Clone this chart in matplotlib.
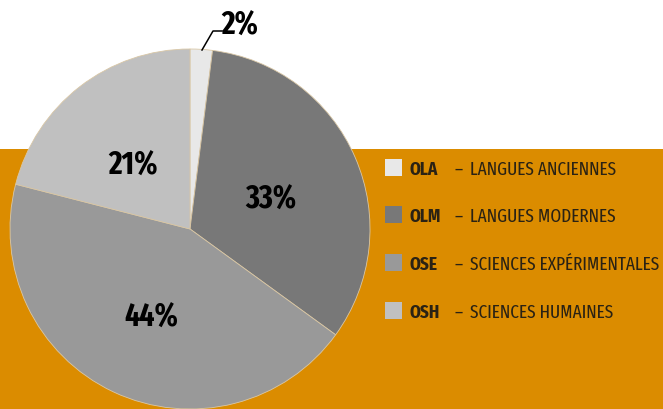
import matplotlib
matplotlib.use("Agg")
import matplotlib.pyplot as plt
from matplotlib.patches import Rectangle

codes = ["OLA", "OLM", "OSE", "OSH"]
names = ["LANGUES ANCIENNES", "LANGUES MODERNES", "SCIENCES EXPÉRIMENTALES", "SCIENCES HUMAINES"]
values = [2, 33, 44, 21]
colors = ["#e8e8e8", "#787878", "#999999", "#c0c0c0"]

plt.rcParams["font.family"] = ["Fira Sans Extra Condensed", "DejaVu Sans"]

W, H = 663, 410
fig = plt.figure(figsize=(W / 100, H / 100), dpi=100)
ax = fig.add_axes([0, 0, 1, 1])
fig.patch.set_facecolor("white")

# orange band
ax.add_patch(Rectangle((0, 0), W, H - 150, facecolor="#db8c00", edgecolor="none", zorder=0))

cx, cy, r = 190, H - 230, 180
ax.pie(values, colors=colors, startangle=90, counterclock=False, center=(cx, cy), radius=r,
       wedgeprops=dict(edgecolor="#d9c7a6", linewidth=0.6, zorder=2), frame=True)
ax.set_xlim(0, W)
ax.set_ylim(0, H)
ax.set_aspect("equal")
ax.axis("off")

label_pos = [(240, 22), (271, 196), (151, 314), (133, 162)]
for v, (x, y) in zip(values, label_pos):
    ax.text(x, H - y, f"{v}%", ha="center", va="center_baseline", fontsize=23, fontweight="bold",
            color="#000000", zorder=5)

# leader line for small slice
ax.plot([202, 213, 222], [H - 51, H - 32, H - 32], color="#000000", lw=1.1, zorder=5)

rows_y = [168, 215, 263, 311]
for c, n, col, y in zip(codes, names, colors, rows_y):
    ax.add_patch(Rectangle((385, H - y - 8.5), 17, 17, facecolor=col, edgecolor="none", zorder=5))
    ax.text(410, H - y, c, ha="left", va="center_baseline", fontsize=13.5, fontweight="bold", color="#2a2214", zorder=5)
    ax.text(455, H - y, "–", ha="left", va="center_baseline", fontsize=13.5, color="#2a2214", zorder=5)
    ax.text(470, H - y, n, ha="left", va="center_baseline", fontsize=13.5, color="#2a2214", zorder=5)

fig.savefig("out.png", dpi=100, facecolor="white")
